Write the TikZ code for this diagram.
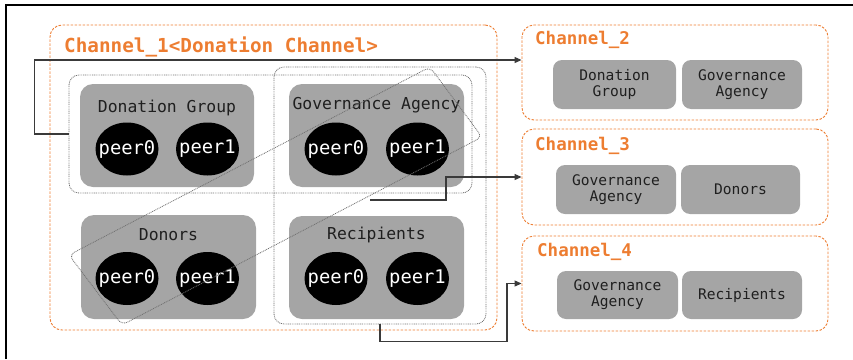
\documentclass[tikz,border=0pt]{standalone}
\usepackage{fontspec}
\newfontfamily\dmono{DejaVu Sans Mono}
\usetikzlibrary{arrows.meta,shapes.geometric}
\definecolor{chorange}{HTML}{ED7D31}
\definecolor{boxgray}{HTML}{A5A5A5}
\definecolor{dotgray}{HTML}{707070}
\definecolor{linegray}{HTML}{3A3A3A}
\begin{document}
\begin{tikzpicture}[x=1pt,y=-1pt,
  channel/.style={rectangle, draw=chorange, dash pattern=on 2.5pt off 1.5pt, line width=0.9pt, rounded corners=12pt, inner sep=0pt},
  chtitle/.style={text=chorange, font=\dmono\bfseries\fontsize{17.5}{18}\selectfont, anchor=west, inner sep=0pt},
  org/.style={rectangle, fill=boxgray, rounded corners=13pt, inner sep=0pt},
  orglabel/.style={font=\dmono\fontsize{16.4}{18}\selectfont, text=black!88, inner sep=0pt},
  peer/.style={ellipse, fill=black, minimum width=63pt, minimum height=53pt, inner sep=0pt},
  peertext/.style={text=white, inner sep=0pt, font=\dmono\fontsize{18.8}{20}\selectfont},
  mini/.style={rectangle, fill=boxgray, rounded corners=9pt, inner sep=0pt, align=center, text=black!88, font=\dmono\fontsize{14.6}{16}\selectfont},
  grpline/.style={draw=dotgray, dash pattern=on 0.9pt off 0.9pt, line width=0.8pt},
  grp/.style={rectangle, grpline, rounded corners=10pt, inner sep=0pt},
  conn/.style={draw=linegray, line width=1.1pt},
  arr/.style={-{Triangle[length=7pt,width=6pt]}}
]
\useasboundingbox (0,0) rectangle (853,359);
% frame
\draw[line width=1.3pt] (6,359) -- (6,5) -- (853,5);

% Channel boxes
\node[channel, minimum width=447pt, minimum height=305pt] (ch1) at (273.5,177.5) {};
\node[channel, minimum width=306pt, minimum height=95pt] (ch2) at (675,72.5) {};
\node[channel, minimum width=306pt, minimum height=96pt] (ch3) at (675,177) {};
\node[channel, minimum width=306pt, minimum height=95pt] (ch4) at (675,283.5) {};

\node[chtitle, font=\dmono\bfseries\fontsize{19.3}{20}\selectfont] (t1) at (64,47) {Channel\_1<Donation Channel>};
\node[chtitle] (t2) at (535,40) {Channel\_2};
\node[chtitle] (t3) at (535,146) {Channel\_3};
\node[chtitle] (t4) at (537,252) {Channel\_4};

% group boxes
\node[grp, minimum width=403pt, minimum height=118pt] (tg) at (270.5,134) {};
\node[grp, minimum width=212pt, minimum height=257pt] (rv) at (380,195.5) {};

% organisations
\node[org, minimum width=174pt, minimum height=103pt] (dg) at (167,135.5) {};
\node[org, minimum width=175pt, minimum height=103pt] (ga) at (376.5,135.5) {};
\node[org, minimum width=175pt, minimum height=104pt] (dn) at (168.5,267) {};
\node[org, minimum width=175pt, minimum height=103pt] (rc) at (376.5,267.5) {};

\node[orglabel] (dgl) at (167,108) {Donation Group};
\node[orglabel] (gal) at (376.5,105) {Governance Agency};
\node[orglabel] (dnl) at (168.5,235) {Donors};
\node[orglabel] (rcl) at (376.5,235) {Recipients};

\node[peer, label={[peertext]center:peer0}] (dg0) at (127,149) {};
\node[peer, label={[peertext]center:peer1}] (dg1) at (207.5,149) {};
\node[peer, label={[peertext]center:peer0}] (ga0) at (336,149) {};
\node[peer, label={[peertext]center:peer1}] (ga1) at (417.5,149) {};
\node[peer, label={[peertext]center:peer0}] (dn0) at (127,278.5) {};
\node[peer, label={[peertext]center:peer1}] (dn1) at (207.5,278.5) {};
\node[peer, label={[peertext]center:peer0}] (rc0) at (336,278.5) {};
\node[peer, label={[peertext]center:peer1}] (rc1) at (417.5,278.5) {};

% rotated group (Governance Agency + Donors)
\draw[grpline, rounded corners=6pt]
  (430,67) -- (482,137) -- (122,325) -- (69,255) -- cycle;
\coordinate (rs) at (370,200);

% right side organisations
\node[mini, minimum width=123pt, minimum height=49pt] (c2a) at (614.5,84.5) {Donation\\Group};
\node[mini, minimum width=120pt, minimum height=49pt] (c2b) at (742,84.5) {Governance\\Agency};
\node[mini, minimum width=120pt, minimum height=49pt] (c3a) at (616,189.5) {Governance\\Agency};
\node[mini, minimum width=119pt, minimum height=49pt] (c3b) at (740.5,189.5) {Donors};
\node[mini, minimum width=121pt, minimum height=48pt] (c4a) at (617.5,295) {Governance\\Agency};
\node[mini, minimum width=120pt, minimum height=48pt] (c4b) at (742,295) {Recipients};

% connectors
\draw[conn, arr] (tg.west) -- ++(-34,0) |- ([yshift=12.5pt]ch2.west);
\draw[conn, arr] (rs) -- ++(76,0) |- (ch3.west);
\draw[conn, arr] (rv.south) -- ++(0,17) -- ++(127,0) |- (ch4.west);
\end{tikzpicture}
\end{document}
